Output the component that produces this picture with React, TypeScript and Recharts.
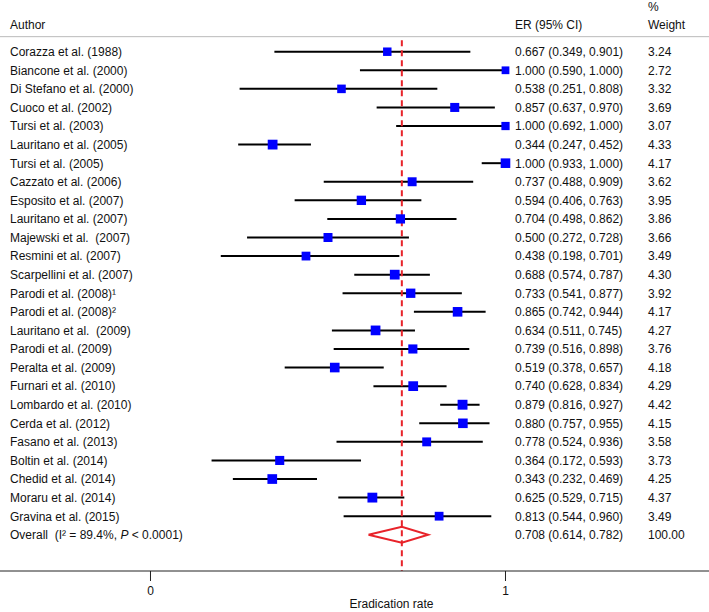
import React from 'react';
import { ScatterChart, Scatter, XAxis, YAxis, ErrorBar, ReferenceLine } from 'recharts';

// study rows, top to bottom
const AUTHORS = [
  'Corazza et al. (1988)',
  'Biancone et al. (2000)',
  'Di Stefano et al. (2000)',
  'Cuoco et al. (2002)',
  'Tursi et al. (2003)',
  'Lauritano et al. (2005)',
  'Tursi et al. (2005)',
  'Cazzato et al. (2006)',
  'Esposito et al. (2007)',
  'Lauritano et al. (2007)',
  'Majewski et al.  (2007)',
  'Resmini et al. (2007)',
  'Scarpellini et al. (2007)',
  'Parodi et al. (2008)\u00b9',
  'Parodi et al. (2008)\u00b2',
  'Lauritano et al.  (2009)',
  'Parodi et al. (2009)',
  'Peralta et al. (2009)',
  'Furnari et al. (2010)',
  'Lombardo et al. (2010)',
  'Cerda et al. (2012)',
  'Fasano et al. (2013)',
  'Boltin et al. (2014)',
  'Chedid et al. (2014)',
  'Moraru et al. (2014)',
  'Gravina et al. (2015)',
];
const ER = [0.667, 1.0, 0.538, 0.857, 1.0, 0.344, 1.0, 0.737, 0.594, 0.704, 0.5, 0.438, 0.688, 0.733, 0.865, 0.634, 0.739, 0.519, 0.74, 0.879, 0.88, 0.778, 0.364, 0.343, 0.625, 0.813];
const LOWER = [0.349, 0.59, 0.251, 0.637, 0.692, 0.247, 0.933, 0.488, 0.406, 0.498, 0.272, 0.198, 0.574, 0.541, 0.742, 0.511, 0.516, 0.378, 0.628, 0.816, 0.757, 0.524, 0.172, 0.232, 0.529, 0.544];
const UPPER = [0.901, 1.0, 0.808, 0.97, 1.0, 0.452, 1.0, 0.909, 0.763, 0.862, 0.728, 0.701, 0.787, 0.877, 0.944, 0.745, 0.898, 0.657, 0.834, 0.927, 0.955, 0.936, 0.593, 0.469, 0.715, 0.96];
const WEIGHT = [3.24, 2.72, 3.32, 3.69, 3.07, 4.33, 4.17, 3.62, 3.95, 3.86, 3.66, 3.49, 4.3, 3.92, 4.17, 4.27, 3.76, 4.18, 4.29, 4.42, 4.15, 3.58, 3.73, 4.25, 4.37, 3.49];

const OVERALL_ER = 0.708;
const OVERALL_LOWER = 0.614;
const OVERALL_UPPER = 0.782;
const OVERALL_WEIGHT = 100;

const X_TICKS = [0, 1];

const W = 709;
const H = 612;
const XMIN = -0.42394;
const XMAX = 1.57324;
const YMIN = -2.783;
const YMAX = 27.95;
const OVERALL_ROW = AUTHORS.length;
const DIAMOND_HALF = 0.43;
const RED = '#e8232a';
const FONT = '"Liberation Sans", Arial, Helvetica, sans-serif';

const fmtCI = (e: number, l: number, u: number) => `${e.toFixed(3)} (${l.toFixed(3)}, ${u.toFixed(3)})`;

const studies = AUTHORS.map((a, i) => ({
  x: ER[i],
  y: i,
  weight: WEIGHT[i],
  err: [ER[i] - LOWER[i], UPPER[i] - ER[i]],
}));

const labels = [
  ...AUTHORS.map((a, i) => ({ x: 0, y: i, author: a, ci: fmtCI(ER[i], LOWER[i], UPPER[i]), w: WEIGHT[i].toFixed(2) })),
  { x: 0, y: OVERALL_ROW, author: 'overall', ci: fmtCI(OVERALL_ER, OVERALL_LOWER, OVERALL_UPPER), w: OVERALL_WEIGHT.toFixed(2) },
];

const diamond = [
  { x: OVERALL_LOWER, y: OVERALL_ROW },
  { x: OVERALL_ER, y: OVERALL_ROW - DIAMOND_HALF },
  { x: OVERALL_UPPER, y: OVERALL_ROW },
  { x: OVERALL_ER, y: OVERALL_ROW + DIAMOND_HALF },
  { x: OVERALL_LOWER, y: OVERALL_ROW },
];

const header = [{ x: 0, y: -1.44 }];

const Square = (props: any) => {
  const { cx, cy, payload } = props;
  const s = 4.7 * Math.sqrt(payload.weight);
  return <rect x={cx - s / 2} y={cy - s / 2} width={s} height={s} fill="#0000ff" />;
};

const RowText = (props: any) => {
  const { cy, payload } = props;
  const txt = { fontSize: 12, fill: '#111', fontFamily: FONT, dy: '0.36em' } as any;
  return (
    <g>
      {payload.author === 'overall' ? (
        <text x={10} y={cy} {...txt} style={{ whiteSpace: 'pre' }}>
          Overall  (I{'\u00b2'} = 89.4%, <tspan fontStyle="italic">P</tspan> {'<'} 0.0001)
        </text>
      ) : (
        <text x={10} y={cy} {...txt} style={{ whiteSpace: 'pre' }}>
          {payload.author}
        </text>
      )}
      <text x={515} y={cy} {...txt}>{payload.ci}</text>
      <text x={648} y={cy} {...txt}>{payload.w}</text>
    </g>
  );
};

const HeaderText = (props: any) => {
  const { cy } = props;
  const txt = { fontSize: 12, fill: '#111', fontFamily: FONT, dy: '0.36em' } as any;
  return (
    <g>
      <text x={10} y={cy} {...txt}>Author</text>
      <text x={515} y={cy} {...txt}>ER (95% CI)</text>
      <text x={648} y={cy - 18} {...txt}>%</text>
      <text x={648} y={cy} {...txt}>Weight</text>
    </g>
  );
};

const Empty = () => <g />;

export default function App() {
  return (
    <div style={{ position: 'absolute', left: 0, top: 0, width: W, height: H, background: '#fff' }}>
      <ScatterChart width={W} height={H} margin={{ top: 0, right: 0, bottom: 0, left: 0 }} style={{ fontFamily: FONT }}>
        <XAxis
          type="number"
          dataKey="x"
          domain={[XMIN, XMAX]}
          allowDataOverflow
          ticks={X_TICKS}
          height={41}
          tickSize={10}
          tickMargin={5}
          stroke="#222"
          tick={{ fontSize: 12, fill: '#111' }}
          label={{ value: 'Eradication rate', position: 'insideBottom', offset: 4, dx: 37, fontSize: 12, fill: '#111' }}
        />
        <YAxis type="number" dataKey="y" domain={[YMIN, YMAX]} allowDataOverflow reversed hide width={0} />
        <ReferenceLine y={-0.81} stroke="#bbbbbb" strokeWidth={1} />
        <Scatter data={labels} shape={RowText} isAnimationActive={false} />
        <Scatter data={header} shape={HeaderText} isAnimationActive={false} />
        <Scatter data={studies} shape={Square} isAnimationActive={false}>
          <ErrorBar dataKey="err" direction="x" width={0} stroke="#000" strokeWidth={2} />
        </Scatter>
        <Scatter
          data={diamond}
          shape={Empty}
          line={{ stroke: RED, strokeWidth: 2 }}
          lineType="joint"
          isAnimationActive={false}
        />
        <ReferenceLine
          segment={[{ x: OVERALL_ER, y: -0.62 }, { x: OVERALL_ER, y: YMAX }]}
          stroke={RED}
          strokeWidth={2}
          strokeDasharray="6 4"
        />
      </ScatterChart>
    </div>
  );
}
